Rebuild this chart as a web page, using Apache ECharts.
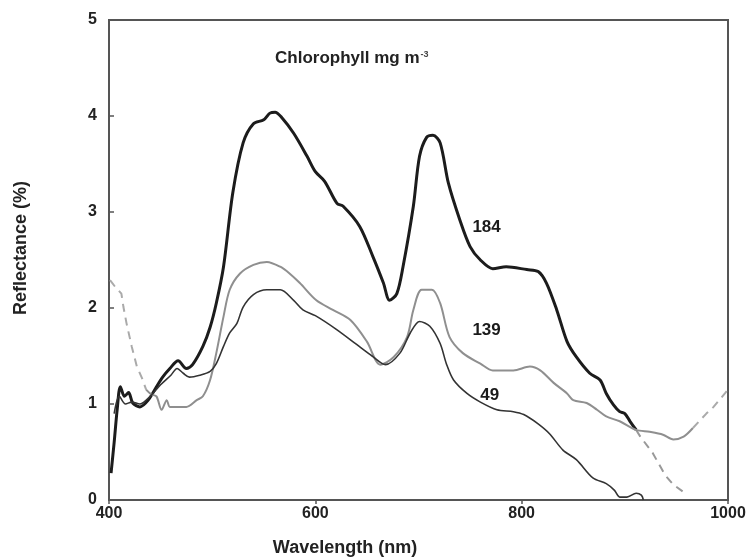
<!DOCTYPE html>
<html>
<head>
<meta charset="utf-8">
<script src="https://cdn.jsdelivr.net/npm/echarts@6/dist/echarts.min.js"></script>
<style>html,body{margin:0;padding:0;background:#fff;}#c{width:753px;height:560px;}</style>
</head>
<body>
<div id="c"></div>
<script>
// Wavelength (nm) and reflectance (%)
var wl184 = [402, 405, 408, 411, 415, 419, 423, 430, 438, 446, 452, 459, 467, 475, 481, 491, 498, 504, 511, 520, 530, 540, 550, 556, 561, 567, 579, 592, 600, 609, 621, 627, 643, 656, 666, 672, 679, 685, 695, 701, 708, 714, 721, 729, 740, 750, 760, 772, 785, 805, 816, 824, 834, 844, 853, 866, 876, 882, 889, 895, 900, 905, 911];
var r184  = [0.28, 0.6, 0.95, 1.18, 1.08, 1.12, 1.01, 0.97, 1.04, 1.18, 1.28, 1.37, 1.45, 1.37, 1.41, 1.6, 1.8, 2.05, 2.43, 3.2, 3.72, 3.92, 3.96, 4.03, 4.04, 3.99, 3.82, 3.58, 3.42, 3.32, 3.09, 3.06, 2.85, 2.53, 2.26, 2.08, 2.15, 2.43, 3.06, 3.58, 3.78, 3.80, 3.72, 3.3, 2.92, 2.64, 2.5, 2.41, 2.43, 2.40, 2.38, 2.26, 1.98, 1.65, 1.49, 1.32, 1.25, 1.11, 0.99, 0.92, 0.9, 0.82, 0.73];
var wl184tail = [911, 915, 927, 939, 947, 956];
var r184tail  = [0.73, 0.66, 0.49, 0.26, 0.16, 0.09];

var wl139head = [401, 406, 412, 414, 417, 422, 427, 432, 436];
var r139head  = [2.29, 2.22, 2.15, 2.01, 1.84, 1.60, 1.39, 1.27, 1.15];
var wl139 = [436, 441, 446, 451, 456, 459, 466, 475, 485, 491, 498, 504, 511, 517, 527, 540, 553, 566, 575, 585, 601, 617, 634, 650, 663, 676, 689, 695, 703, 713, 721, 730, 743, 760, 772, 792, 808, 818, 831, 844, 850, 863, 873, 882, 895, 911, 924, 937, 947, 957, 966];
var r139  = [1.15, 1.1, 1.08, 0.94, 1.04, 0.97, 0.97, 0.97, 1.04, 1.08, 1.25, 1.53, 1.91, 2.19, 2.36, 2.45, 2.48, 2.43, 2.36, 2.26, 2.08, 1.98, 1.875, 1.65, 1.41, 1.49, 1.70, 1.98, 2.19, 2.19, 2.05, 1.70, 1.53, 1.42, 1.35, 1.35, 1.39, 1.35, 1.22, 1.11, 1.04, 1.01, 0.94, 0.87, 0.82, 0.73, 0.71, 0.68, 0.63, 0.66, 0.75];
var wl139tail = [966, 979, 986, 997, 1000];
var r139tail  = [0.75, 0.90, 0.97, 1.11, 1.15];

var wl49 = [405, 410, 416, 422, 430, 440, 450, 460, 466, 472, 478, 488, 498, 504, 511, 517, 524, 530, 540, 553, 566, 579, 588, 600, 620, 640, 655, 668, 682, 692, 701, 711, 721, 727, 734, 747, 760, 776, 792, 802, 815, 827, 840, 853, 869, 882, 890, 895, 902, 911, 916, 918];
var r49  = [0.9, 1.08, 1.0, 1.02, 1.0, 1.08, 1.2, 1.3, 1.37, 1.32, 1.28, 1.30, 1.34, 1.42, 1.60, 1.74, 1.84, 2.01, 2.14, 2.19, 2.19, 2.08, 1.98, 1.92, 1.78, 1.62, 1.50, 1.41, 1.53, 1.74, 1.86, 1.81, 1.63, 1.42, 1.25, 1.11, 1.02, 0.94, 0.92, 0.89, 0.80, 0.69, 0.52, 0.42, 0.23, 0.17, 0.10, 0.03, 0.03, 0.07, 0.05, 0.0];

var seriesLabels = ['184', '139', '49'];
var labelWl = [766, 766, 769];
var labelR  = [2.84, 1.77, 1.09];

var xTicks = [400, 600, 800, 1000];
var yTicks = [0, 1, 2, 3, 4, 5];

function zip(a, b) { return a.map(function (v, i) { return [v, b[i]]; }); }

var FONT = 'Liberation Sans';
var chart = echarts.init(document.getElementById('c'), null, {renderer: 'canvas'});
chart.setOption({
  animation: false,
  backgroundColor: '#fff',
  grid: {left: 109, right: 25, top: 20, bottom: 60, show: true, borderColor: '#555', borderWidth: 2},
  xAxis: {
    type: 'value', min: xTicks[0], max: xTicks[xTicks.length - 1], interval: 200,
    axisLine: {show: true, lineStyle: {color: '#555', width: 2}},
    axisTick: {show: true, inside: false, length: 4, lineStyle: {color: '#555', width: 1.5}},
    axisLabel: {color: '#222', fontFamily: FONT, fontWeight: 'bold', fontSize: 16, margin: 6,
      formatter: function (v) { return String(v); }},
    splitLine: {show: false}
  },
  yAxis: {
    type: 'value', min: yTicks[0], max: yTicks[yTicks.length - 1], interval: 1,
    axisLine: {show: true, lineStyle: {color: '#555', width: 2}},
    axisTick: {show: true, inside: true, length: 5, lineStyle: {color: '#555', width: 1.5}},
    axisLabel: {color: '#222', fontFamily: FONT, fontWeight: 'bold', fontSize: 16, margin: 12},
    splitLine: {show: false}
  },
  series: [
    {type: 'line', name: '184', data: zip(wl184, r184), showSymbol: false, smooth: 0.3,
      lineStyle: {color: '#1c1c1c', width: 3}},
    {type: 'line', name: '184 tail', data: zip(wl184tail, r184tail), showSymbol: false,
      lineStyle: {color: '#999', width: 2, type: [8, 6]}},
    {type: 'line', name: '139 head', data: zip(wl139head, r139head), showSymbol: false,
      lineStyle: {color: '#aaa', width: 2, type: [8, 6]}},
    {type: 'line', name: '139', data: zip(wl139, r139), showSymbol: false, smooth: 0.3,
      lineStyle: {color: '#8f8f8f', width: 2}},
    {type: 'line', name: '139 tail', data: zip(wl139tail, r139tail), showSymbol: false,
      lineStyle: {color: '#aaa', width: 2, type: [8, 6]}},
    {type: 'line', name: '49', data: zip(wl49, r49), showSymbol: false, smooth: 0.3,
      lineStyle: {color: '#333', width: 1.6}},
    {type: 'scatter', name: 'labels', symbolSize: 1, itemStyle: {opacity: 0},
      data: labelWl.map(function (w, i) { return {value: [w, labelR[i]], name: seriesLabels[i]}; }),
      label: {show: true, position: 'inside', formatter: '{b}', color: '#1a1a1a', opacity: 1,
        fontFamily: FONT, fontWeight: 'bold', fontSize: 17}}
  ],
  graphic: [
    {type: 'text', left: 275, top: 50,
      style: {text: '{a|Chlorophyll mg m}{s|-3}', fill: '#222',
        rich: {a: {fontFamily: FONT, fontWeight: 'bold', fontSize: 17, fill: '#222'},
               s: {fontFamily: FONT, fontWeight: 'bold', fontSize: 9, fill: '#444', verticalAlign: 'top', padding: [0, 0, 8, 1]}}}},
    {type: 'text', x: 345, y: 548,
      style: {text: 'Wavelength (nm)', fill: '#222', font: 'bold 18px "Liberation Sans"', textAlign: 'center', textVerticalAlign: 'middle'}},
    {type: 'text', x: 21, y: 248, rotation: Math.PI / 2,
      style: {text: 'Reflectance (%)', fill: '#222', font: 'bold 18px "Liberation Sans"', textAlign: 'center', textVerticalAlign: 'middle'}}
  ]
});
</script>
</body>
</html>
